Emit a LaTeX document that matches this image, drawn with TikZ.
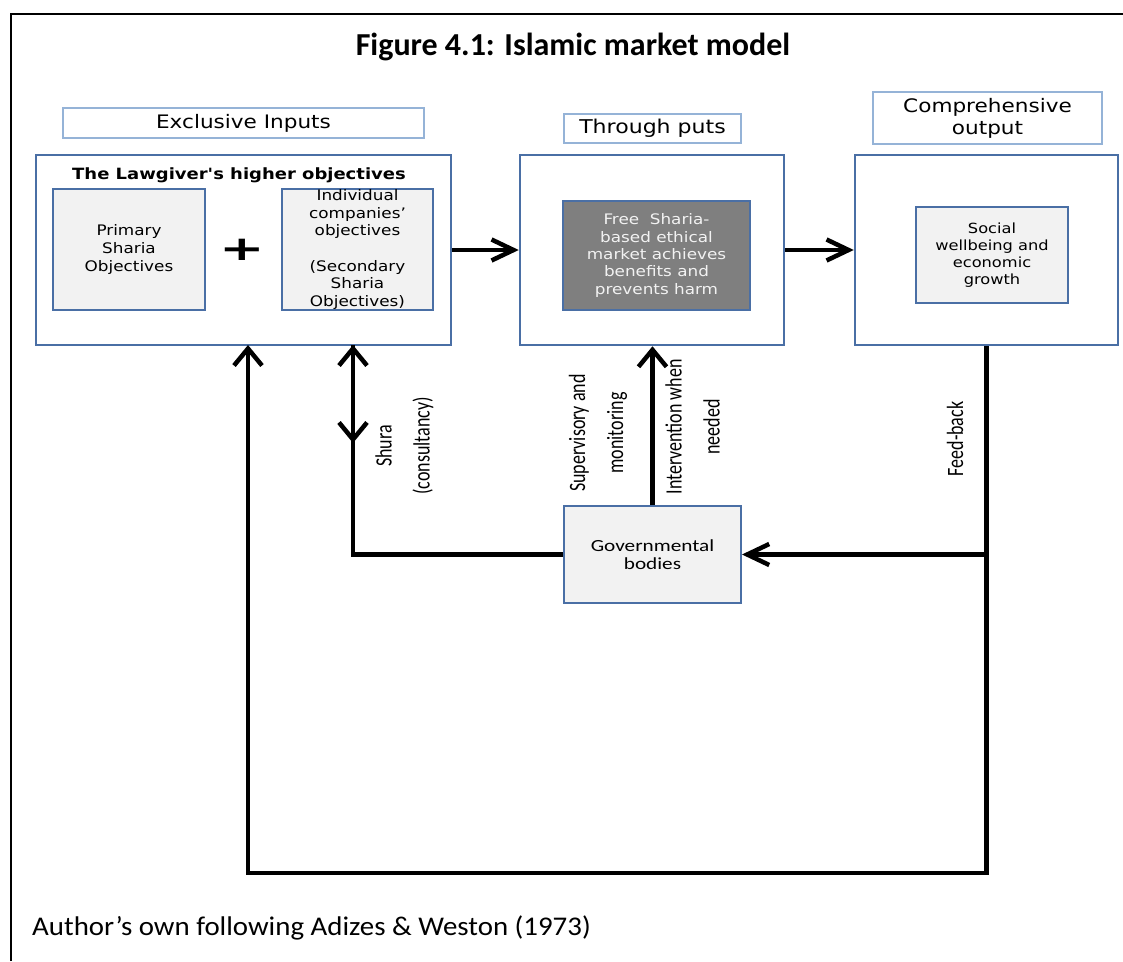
\documentclass[tikz,border=0pt]{standalone}
\usepackage{fontspec}
\setmainfont{DejaVu Sans}
\newfontfamily\vfont{DejaVu Sans}[FakeStretch=1.16]
\newfontfamily\cfont{Carlito}[FakeStretch=1.25]
\newfontfamily\capfont{Carlito}[FakeStretch=1.07]
\newfontfamily\rfont{Carlito}
\usetikzlibrary{arrows.meta}
\definecolor{boxblue}{HTML}{4A6FA5}
\definecolor{lblblue}{HTML}{95B3D7}
\definecolor{lightfill}{HTML}{F2F2F2}
\definecolor{darkfill}{HTML}{7F7F7F}
\newcommand\vst[1]{\scalebox{1}[1.3]{#1}}
\begin{document}
\begin{tikzpicture}[x=1pt,y=-1pt,
  lbl/.style={draw=lblblue, line width=1.3pt, fill=white, inner sep=0pt, align=center,
    font=\vfont\fontsize{18.6}{22}\selectfont},
  bigbox/.style={draw=boxblue, line width=2.5pt, fill=white, inner sep=0pt,
    minimum width=#1, minimum height=190pt},
  inbox/.style={draw=boxblue, line width=2.5pt, fill=lightfill, inner sep=0pt, align=center,
    font=\vfont\fontsize{14.5}{17.6}\selectfont},
  darkbox/.style={draw=boxblue, line width=2.5pt, fill=darkfill, text=lightfill, inner sep=0pt,
    align=center, font=\vfont\fontsize{14.5}{17.3}\selectfont},
  rot/.style={rotate=90, align=center, inner sep=0pt, font=\rfont\fontsize{18}{38}\selectfont},
  conn/.style={line width=4.5pt, draw=black},
  harr/.style={-{Straight Barb[length=22pt,width=21pt]}},
  varr/.style={-{Straight Barb[length=17pt,width=28pt]}}
]
\useasboundingbox (0,0) rectangle (1123,961);
\fill[white] (0,0) rectangle (1123,961);
% outer frame
\draw[line width=1.6pt] (11,961) -- (11,14) -- (1123,14);

% title
\node[font=\rfont\bfseries\fontsize{32}{38}\selectfont] (title) at (573,47) {Figure 4.1: Islamic market model};

% header labels
\node[lbl, minimum width=361pt, minimum height=30pt] (exin) at (243.5,123) {Exclusive Inputs};
\node[lbl, minimum width=177pt, minimum height=29pt] (thru) at (652.5,128.5) {\fontsize{19}{22}\selectfont Through puts};
\node[lbl, minimum width=229pt, minimum height=52pt] (comp) at (987.5,118) {Comprehensive\\output};

% big boxes
\node[bigbox=415pt] (L) at (243.5,250) {};
\node[bigbox=264pt] (M) at (652,250) {};
\node[bigbox=263pt] (R) at (986.5,250) {};

\node[font=\vfont\bfseries\fontsize{15.5}{18}\selectfont] (lawt) at (239,175) {The Lawgiver's higher objectives};

\node[inbox, minimum width=152pt, minimum height=121pt] (prim) at (129,249.5) {Primary\\Sharia\\Objectives};
\node[font=\bfseries\fontsize{34}{34}\selectfont] (plus) at (242,250) {\scalebox{1.6}[1]{+}};
\node[inbox, minimum width=151pt, minimum height=121pt] (indiv) at (357.5,249.5)
  {Individual\\companies’\\objectives\\\mbox{}\\(Secondary\\Sharia\\Objectives)};

\node[darkbox, minimum width=187pt, minimum height=109pt] (dark) at (656.5,255.5)
  {Free\ \ Sharia-\\based ethical\\market achieves\\benefits and\\prevents harm};

\node[inbox, minimum width=152pt, minimum height=96pt, font=\vfont\fontsize{14}{16.8}\selectfont] (soc) at (992,255)
  {Social\\wellbeing and\\economic\\growth};

% governmental bodies
\node[draw=boxblue, line width=2pt, fill=lightfill, minimum width=177pt, minimum height=97pt, inner sep=0pt,
  align=center, font=\cfont\fontsize{17}{17.5}\selectfont] (gov) at (652.5,554.5) {Governmental\\bodies};

% rotated labels
\node[rot] (shural) at (404.5,446) {\vst{Shura}\\\vst{(consultancy)}};
\node[rot] (supl) at (598,433) {\vst{Supervisory and}\\\vst{monitoring}};
\node[rot] (intl) at (692.5,427) {\vst{Intervention when}\\\vst{needed}};
\node[rot] (fbl) at (955,439) {\vst{Feed-back}};

% caption
\node[anchor=west, inner sep=0pt, font=\capfont\fontsize{27}{30}\selectfont] (cap) at (32,928)
  {Author’s own following Adizes \& Weston (1973)};

% coordinates
\coordinate (shuraTop) at (353,345);
\coordinate (shuraMid) at (353,443);
\coordinate (shuraCorner) at (353,554.5);
\coordinate (fbJ) at (986.5,554.5);
\coordinate (fbBot) at (986.5,873);
\coordinate (inBot) at (248,873);
\coordinate (inTop) at (248,345);

% connectors
\draw[conn, harr] (L.east) -- (M.west);
\draw[conn, harr] (M.east) -- (R.west);
\draw[conn, varr] (gov.north) -- (gov.north |- M.south);
\draw[conn, varr] (gov.west) -- (shuraCorner) -- (shuraTop);
\draw[conn, varr] (shuraTop) -- (shuraMid);
\draw[conn, varr] (R.south) -- (fbBot) -- (inBot) -- (inTop);
\draw[conn, harr] (fbJ) -- (gov.east);
\end{tikzpicture}
\end{document}
